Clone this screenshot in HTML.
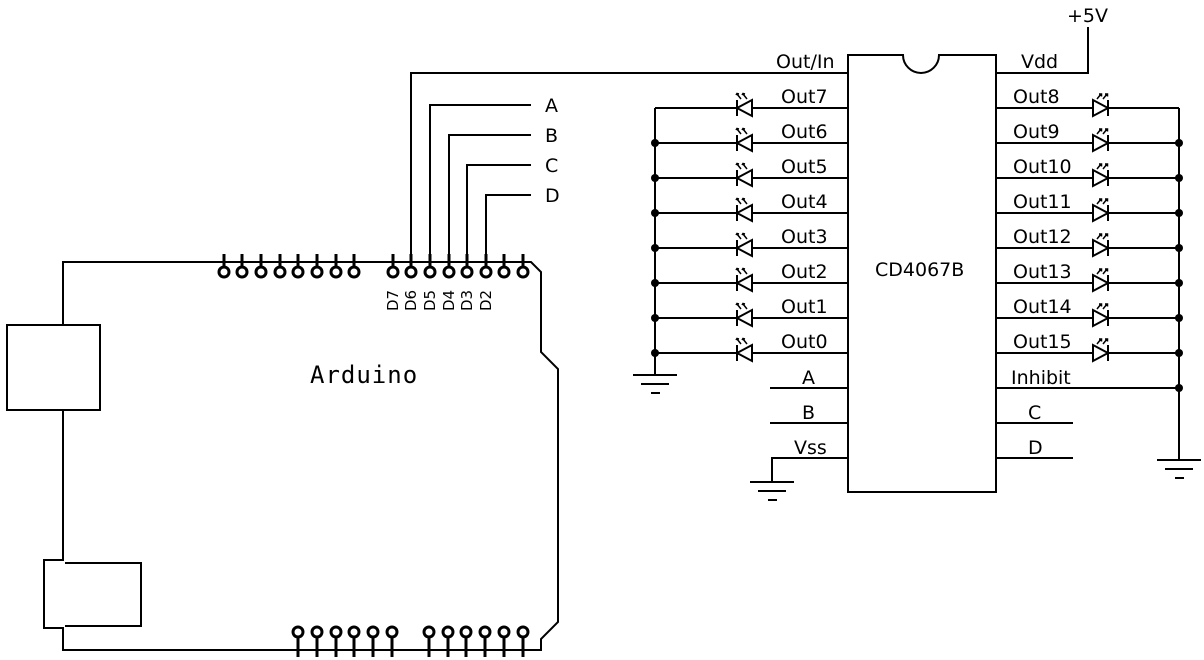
<!DOCTYPE html>
<html><head><meta charset="utf-8"><style>
html,body{margin:0;padding:0;background:#fff;}
svg{display:block;}
</style></head><body>
<svg id="s" width="1204" height="660" viewBox="0 0 1204 660" xmlns="http://www.w3.org/2000/svg" stroke="#000" stroke-width="2" fill="none" font-family="DejaVu Sans, Liberation Sans, sans-serif" font-size="19">
<path d="M63,325 V262 H531 L541,272 V352 L558,369 V622 L541,639 V650 H63 V628 H44 V560 H63 V410" />
<rect x="7" y="325" width="93" height="85"/>
<path d="M65,563 H141 V626 H65" />
<text x="310" y="383" stroke="none" fill="#000" font-family="DejaVu Sans Mono, Liberation Mono, monospace" font-size="24" letter-spacing="1">Arduino</text>
<path d="M848,55 H903 A18,18 0 0 0 939,55 H996 V492 H848 Z"/>
<text x="875" y="276" stroke="none" fill="#000">CD4067B</text>
<path d="M411,262 V73 H848"/>
<text x="776" y="68" stroke="none" fill="#000">Out/In</text>
<path d="M996,73 H1088 V27"/>
<text x="1021" y="68" stroke="none" fill="#000">Vdd</text>
<text x="1067" y="22" stroke="none" fill="#000">+5V</text>
<path d="M430,262 V105 H531 M449,262 V135 H531 M467,262 V165 H531 M486,262 V195 H531"/>
<text x="545" y="112" stroke="none" fill="#000">A</text>
<text x="545" y="142" stroke="none" fill="#000">B</text>
<text x="545" y="172" stroke="none" fill="#000">C</text>
<text x="545" y="202" stroke="none" fill="#000">D</text>
<path d="M770,388 H848 M770,423 H848 M848,458 H772 V482"/>
<text x="802" y="384" stroke="none" fill="#000">A</text>
<text x="802" y="419" stroke="none" fill="#000">B</text>
<text x="794" y="454" stroke="none" fill="#000">Vss</text>
<path d="M996,388 H1179 M996,423 H1073 M996,458 H1073 M1179,108 V460"/>
<text x="1011" y="384" stroke="none" fill="#000">Inhibit</text>
<text x="1028" y="419" stroke="none" fill="#000">C</text>
<text x="1028" y="454" stroke="none" fill="#000">D</text>
<circle cx="1179" cy="388" r="4" fill="#000" stroke="none"/>
<path d="M655,108 V375"/>
<path d="M633,375 H677 M641,384 H669 M651,393 H660"/>
<path d="M750,482 H794 M758,491 H786 M768,500 H777"/>
<path d="M1157,460 H1201 M1165,469 H1193 M1175,478 H1184"/>
</svg>
<script>
var s=document.getElementById('s'),ns='http://www.w3.org/2000/svg';
function el(t,a,txt){var e=document.createElementNS(ns,t);for(var k in a)e.setAttribute(k,a[k]);if(txt)e.textContent=txt;s.appendChild(e);return e;}
var tx=[224,242,261,280,298,317,336,354,393,411,430,449,467,486,504,523];
tx.forEach(function(x){el('path',{d:'M'+x+',254 V266','stroke-width':3});el('circle',{cx:x,cy:272,r:5,'stroke-width':3});});
var dx=[393,411,430,449,467,486];
['D7','D6','D5','D4','D3','D2'].forEach(function(t,i){el('text',{x:0,y:0,stroke:'none',fill:'#000','font-size':15,transform:'translate('+(dx[i]+5)+',311) rotate(-90)'},t);});
var bx=[298,317,336,354,373,392,429,448,466,485,504,523];
bx.forEach(function(x){el('path',{d:'M'+x+',638 V657','stroke-width':3});el('circle',{cx:x,cy:632,r:5,'stroke-width':3});});
for(var i=0;i<8;i++){
 var y=108+i*35;
 el('path',{d:'M655,'+y+' H737 M752,'+y+' H848'});
 el('path',{d:'M737,'+(y-8)+' V'+(y+8)+' M737,'+y+' L752,'+(y-8)+' V'+(y+8)+' Z',fill:'#fff'});
 el('path',{d:'M741,'+(y-9)+' L737,'+(y-14)+' M747,'+(y-9)+' L743,'+(y-14)+' M736,'+(y-13)+' l1,-1.5 l2,0.5 M742,'+(y-13)+' l1,-1.5 l2,0.5','stroke-width':1.5});
 el('text',{x:781,y:y-5,stroke:'none',fill:'#000'},'Out'+(7-i));
 if(i>0)el('circle',{cx:655,cy:y,r:4,fill:'#000',stroke:'none'});
 el('path',{d:'M996,'+y+' H1093 M1108,'+y+' H1179'});
 el('path',{d:'M1108,'+(y-8)+' V'+(y+8)+' M1108,'+y+' L1093,'+(y-8)+' V'+(y+8)+' Z',fill:'#fff'});
 el('path',{d:'M1097,'+(y-9)+' L1101,'+(y-14)+' M1103,'+(y-9)+' L1107,'+(y-14)+' M1099,'+(y-14)+' h2.5 v2.5 M1105,'+(y-14)+' h2.5 v2.5','stroke-width':1.5});
 el('text',{x:1013,y:y-5,stroke:'none',fill:'#000'},'Out'+(8+i));
 if(i>0)el('circle',{cx:1179,cy:y,r:4,fill:'#000',stroke:'none'});
}
</script>
</body></html>
